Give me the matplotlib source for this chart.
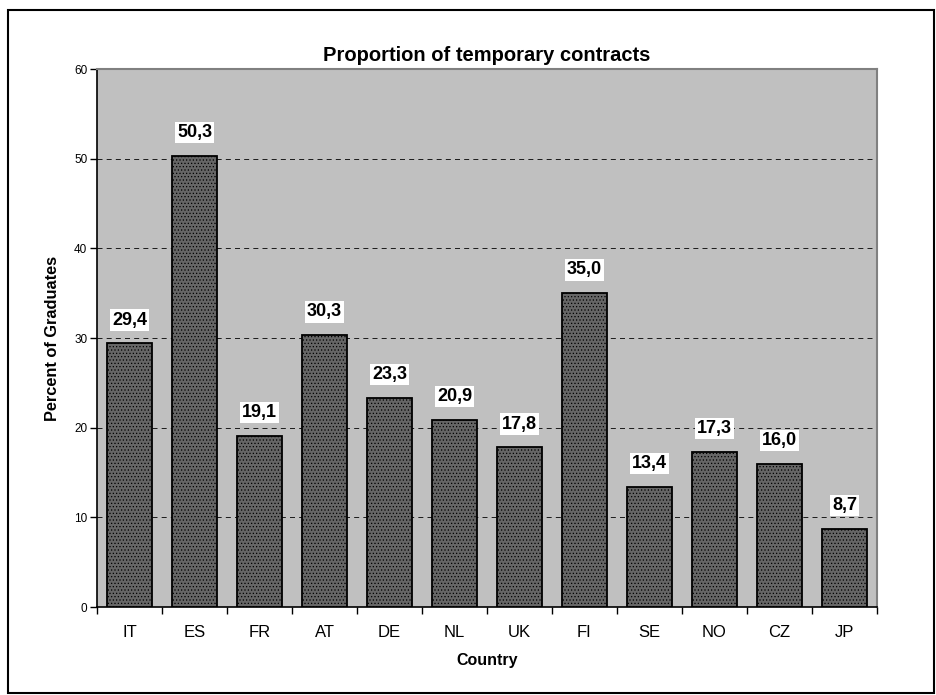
import matplotlib
matplotlib.use("Agg")
import matplotlib.pyplot as plt
from matplotlib.patches import Rectangle

countries = ["IT", "ES", "FR", "AT", "DE", "NL", "UK", "FI", "SE", "NO", "CZ", "JP"]
values = [29.4, 50.3, 19.1, 30.3, 23.3, 20.9, 17.8, 35.0, 13.4, 17.3, 16.0, 8.7]
yticks = [0, 10, 20, 30, 40, 50, 60]

plt.rcParams['font.family'] = ['Liberation Sans', 'DejaVu Sans']
plt.rcParams['hatch.color'] = '#505050'
plt.rcParams['hatch.linewidth'] = 0.5

W, H = 936, 695
fig = plt.figure(figsize=(W/100, H/100), dpi=100)
fig.patches.append(Rectangle((8/W, 1-693/H), (934-8)/W, (693-10)/H, transform=fig.transFigure,
                             fill=False, edgecolor='black', linewidth=1.5))

ax = fig.add_axes([97/W, 1-607/H, (877-97)/W, (607-69)/H])
ax.set_facecolor('#c0c0c0')
x = list(range(len(countries)))
ax.bar(x, values, width=0.68, color='#666666', edgecolor='black', linewidth=1.3,
       hatch='.....', zorder=3)
for xi, v in zip(x, values):
    ax.text(xi, v + 2.6, f"{v:.1f}".replace('.', ','), ha='center', va='center',
            fontsize=13, fontweight='bold', zorder=4,
            bbox=dict(facecolor='white', edgecolor='none', pad=1.5))

ax.set_xlim(-0.5, len(countries) - 0.5)
ax.set_ylim(0, 60)
ax.set_yticks(yticks)
ax.set_xticks([i - 0.5 for i in range(len(countries) + 1)], minor=False)
ax.set_xticklabels([])
ax.set_xticks(x, minor=True)
ax.set_xticklabels(countries, minor=True, fontsize=12)
ax.tick_params(axis='x', which='minor', length=0, pad=13)
ax.tick_params(axis='x', which='major', length=5, direction='out', width=1)
ax.tick_params(axis='y', length=5, direction='out', labelsize=8.5, width=1, pad=2)
for y in yticks[1:-1]:
    ax.axhline(y, color='black', linestyle=(0, (6, 5)), linewidth=0.6, zorder=1)

ax.spines['left'].set_color('black')
ax.spines['bottom'].set_color('black')
ax.spines['left'].set_linewidth(1.2)
ax.spines['bottom'].set_linewidth(1.2)
ax.spines['top'].set_color('#808080')
ax.spines['right'].set_color('#808080')
ax.spines['top'].set_linewidth(1.5)
ax.spines['right'].set_linewidth(1.5)

ax.set_title("Proportion of temporary contracts", fontsize=14.5, fontweight='bold', pad=6)
ax.set_ylabel("Percent of Graduates", fontsize=11.8, fontweight='bold', labelpad=10)
ax.set_xlabel("Country", fontsize=11.5, fontweight='bold', labelpad=9)

fig.savefig("out.png", dpi=100)
